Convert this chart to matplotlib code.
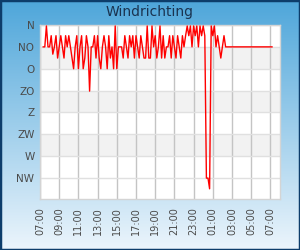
import matplotlib
matplotlib.use("Agg")
import matplotlib.pyplot as plt
import matplotlib.dates as mdates
import numpy as np
import pandas as pd

# windrichting in graden, elke 10 minuten vanaf 07:20
richting = [
    45, 45, 2, 45,
    45, 22, 60, 45, 22, 68,
    45, 22, 45, 68, 22, 45,
    22, 45, 68, 90, 45, 22,
    90, 45, 22, 90, 68, 22,
    45, 136, 45, 45, 22, 68,
    22, 68, 90, 45, 22, 45,
    90, 22, 68, 45, 90, 2,
    90, 45, 45, 45, 68, 22,
    45, 68, 22, 45, 22, 68,
    22, 45, 68, 22, 45, 68,
    68, 2, 68, 68, 2, 45,
    22, 68, 45, 2, 68, 22,
    68, 45, 45, 22, 68, 22,
    45, 68, 22, 45, 68, 22,
    45, 22, 2, 22, 2, 45,
    2, 22, 2, 45, 2, 22,
    2, 22, 315, 315, 337, 2,
    22, 2, 45, 22, 45, 68,
    45, 22, 45, 45, 45, 45,
    45, 45, 45, 45, 45, 45,
    45, 45, 45, 45, 45, 45,
    45, 45, 45, 45, 45, 45,
    45, 45, 45, 45, 45, 45,
    45, 45,
]
tijden = pd.date_range("2024-05-01 07:20", periods=len(richting), freq="10min")

y_ticks = [0, 45, 90, 135, 180, 225, 270, 315]
y_labels = ["N", "NO", "O", "ZO", "Z", "ZW", "W", "NW"]

fig = plt.figure(figsize=(3, 2.5), dpi=100)

# achtergrond verloop
bg = fig.add_axes([0, 0, 1, 1], zorder=0)
top = np.array([78, 166, 218]) / 255
bot = np.array([236, 245, 252]) / 255
t = np.linspace(0, 1, 256)[:, None]
grad = top * (1 - t) + bot * t
bg.imshow(grad[:, None, :], aspect="auto", extent=[0, 1, 0, 1])
bg.set_xlim(0, 1)
bg.set_ylim(0, 1)
bg.axis("off")
bg.add_patch(plt.Rectangle((0, 0), 1, 1, fill=False, edgecolor="#0d3d6b", linewidth=2.5,
                           transform=bg.transAxes))

ax = fig.add_axes([40/300, 1 - 199/250, 240/300, 174/250], zorder=1)
ax.set_facecolor("white")
for lo in [45, 135, 225]:
    ax.axhspan(lo, lo + 45, color="#f2f2f2", zorder=0, lw=0)

ax.plot(tijden, richting, color="#ff0000", lw=1.0, zorder=3)

start = pd.Timestamp("2024-05-01 07:00")
ax.set_xlim(start, start + pd.Timedelta(hours=25))
ax.set_ylim(358, 0)
ax.set_yticks(y_ticks)
ax.set_yticklabels(y_labels)
ax.xaxis.set_major_locator(mdates.HourLocator(byhour=range(1, 24, 2)))
ax.xaxis.set_major_formatter(mdates.DateFormatter("%H:%M"))
ax.tick_params(axis="x", rotation=90, labelsize=7, colors="#4a4a4a", length=0, pad=6)
ax.tick_params(axis="y", labelsize=7.5, colors="#4a4a4a", length=0, pad=4)

ax.grid(axis="x", color="#c4c4c4", lw=1.0, zorder=1)
ax.grid(axis="y", color="#e0e0e0", lw=1.0, zorder=1)
ax.set_axisbelow(True)
for s in ax.spines.values():
    s.set_color("#d4d4d4")
    s.set_linewidth(1.0)

fig.text(0.5, 1 - 12/250, "Windrichting", ha="center", va="center",
         fontsize=10, color="#1a3350")

fig.savefig("out.png", dpi=100)
